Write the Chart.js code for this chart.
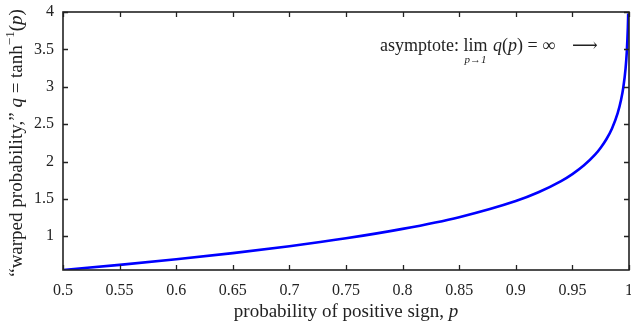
<!DOCTYPE html>
<html>
<head>
<meta charset="utf-8">
<script src="https://cdn.jsdelivr.net/npm/chart.js@4"></script>
<style>
  html, body { margin: 0; padding: 0; background: #fff; }
  #wrap { width: 631px; height: 330px; }
</style>
</head>
<body>
<div id="wrap"><canvas id="warpChart" width="631" height="330"></canvas></div>
<script>
// values
const pValues = [0.5, 0.55, 0.6, 0.65, 0.7, 0.75, 0.8, 0.85, 0.9, 0.92, 0.94, 0.95, 0.96, 0.97,
  0.975, 0.98, 0.985, 0.99, 0.993, 0.995, 0.997, 0.998, 0.999, 0.9993];
const qValues = [0.549, 0.618, 0.693, 0.775, 0.867, 0.973, 1.099, 1.256, 1.472, 1.589, 1.738, 1.832, 1.946, 2.092,
  2.185, 2.298, 2.443, 2.647, 2.826, 2.993, 3.250, 3.453, 3.800, 3.980];
const xTicks = [0.5, 0.55, 0.6, 0.65, 0.7, 0.75, 0.8, 0.85, 0.9, 0.95, 1];
const yTicks = [1, 1.5, 2, 2.5, 3, 3.5, 4];

const serif = '"Liberation Serif", "DejaVu Serif", serif';
const ink = '#222';

// ticks pointing inwards on all four sides, plus the frame
const framePlugin = {
  id: 'frame',
  afterDraw(chart) {
    const c = chart.ctx, a = chart.chartArea;
    const xs = chart.scales.x, ys = chart.scales.y;
    c.save();
    c.strokeStyle = ink;
    c.lineWidth = 1.3;
    c.beginPath();
    xTicks.forEach(v => {
      const px = Math.round(xs.getPixelForValue(v)) + 0.5;
      c.moveTo(px, a.bottom); c.lineTo(px, a.bottom - 5);
      c.moveTo(px, a.top); c.lineTo(px, a.top + 5);
    });
    yTicks.forEach(v => {
      const py = Math.round(ys.getPixelForValue(v)) + 0.5;
      c.moveTo(a.left, py); c.lineTo(a.left + 5, py);
      c.moveTo(a.right, py); c.lineTo(a.right - 5, py);
    });
    c.stroke();
    c.lineWidth = 1.6;
    c.strokeRect(a.left, a.top, a.right - a.left, a.bottom - a.top);
    c.restore();
  }
};

// draws a run of [text, font, dy] pieces left to right
function drawRun(c, pieces, x, y) {
  pieces.forEach(([t, f, dy]) => {
    c.font = f;
    c.fillText(t, x, y + (dy || 0));
    x += c.measureText(t).width;
  });
  return x;
}

function runWidth(c, pieces) {
  let w = 0;
  pieces.forEach(([t, f]) => { c.font = f; w += c.measureText(t).width; });
  return w;
}

const labelPlugin = {
  id: 'labels',
  afterDraw(chart) {
    const c = chart.ctx, a = chart.chartArea;
    c.save();
    c.fillStyle = ink;
    c.textBaseline = 'alphabetic';
    c.textAlign = 'left';
    const up = '19px ' + serif, it = 'italic 19px ' + serif, sm = '13px ' + serif;

    // x axis title
    const xPieces = [['probability of positive sign, ', up], ['p', it]];
    const xw = runWidth(c, xPieces);
    drawRun(c, xPieces, (a.left + a.right) / 2 - xw / 2, 317);

    // y axis title, rotated
    const yPieces = [['\u201cwarped probability,\u201d ', up], ['q', it], [' = tanh', up],
      ['\u22121', sm, -8], ['(', up], ['p', it], [')', up]];
    const yw = runWidth(c, yPieces);
    c.save();
    c.translate(22, (a.top + a.bottom) / 2 + 2);
    c.rotate(-Math.PI / 2);
    drawRun(c, yPieces, -yw / 2, 0);
    c.restore();

    // asymptote note
    const f = '18px ' + serif, fi = 'italic 18px ' + serif;
    let x = drawRun(c, [['asymptote: ', f]], 380, 51);
    const limX = x;
    x = drawRun(c, [['lim', f]], x, 51);
    const limW = x - limX;
    c.font = 'italic 11px ' + serif;
    const subW = c.measureText('p\u21921').width;
    c.fillText('p\u21921', limX + limW / 2 - subW / 2, 63);
    drawRun(c, [[' ', f], ['q', fi], ['(', f], ['p', fi], [') = \u221e', f]], x + 1, 51);
    drawRun(c, [['\u27f6', f]], 572, 51);
    c.restore();
  }
};

const points = pValues.map((p, i) => ({ x: p, y: qValues[i] }));

new Chart(document.getElementById('warpChart').getContext('2d'), {
  type: 'line',
  data: {
    datasets: [{
      data: points,
      borderColor: '#0000ff',
      borderWidth: 2.6,
      pointRadius: 0,
      cubicInterpolationMode: 'monotone',
      fill: false
    }]
  },
  options: {
    responsive: false,
    animation: false,
    maintainAspectRatio: false,
    layout: { padding: { top: 12, right: 2, left: 0, bottom: 0 } },
    plugins: { legend: { display: false }, tooltip: { enabled: false } },
    scales: {
      x: {
        type: 'linear',
        min: 0.5,
        max: 1,
        afterBuildTicks: s => { s.ticks = xTicks.map(v => ({ value: v })); },
        afterFit: s => { s.height = 60; s.paddingLeft = 0; s.paddingRight = 0; },
        grid: { display: false, drawTicks: false, tickLength: 0 },
        border: { display: false },
        ticks: {
          color: ink,
          font: { family: serif, size: 16 },
          padding: 11,
          maxRotation: 0,
          autoSkip: false,
          callback: v => String(+v.toFixed(2))
        }
      },
      y: {
        type: 'linear',
        min: 0.549,
        max: 4,
        afterBuildTicks: s => { s.ticks = yTicks.map(v => ({ value: v })); },
        afterFit: s => { s.width = 63; s.paddingTop = 0; s.paddingBottom = 0; },
        grid: { display: false, drawTicks: false, tickLength: 0 },
        border: { display: false },
        ticks: {
          color: ink,
          font: { family: serif, size: 16 },
          padding: 9,
          callback: v => String(+v.toFixed(1))
        }
      }
    }
  },
  plugins: [framePlugin, labelPlugin]
});
</script>
</body>
</html>
